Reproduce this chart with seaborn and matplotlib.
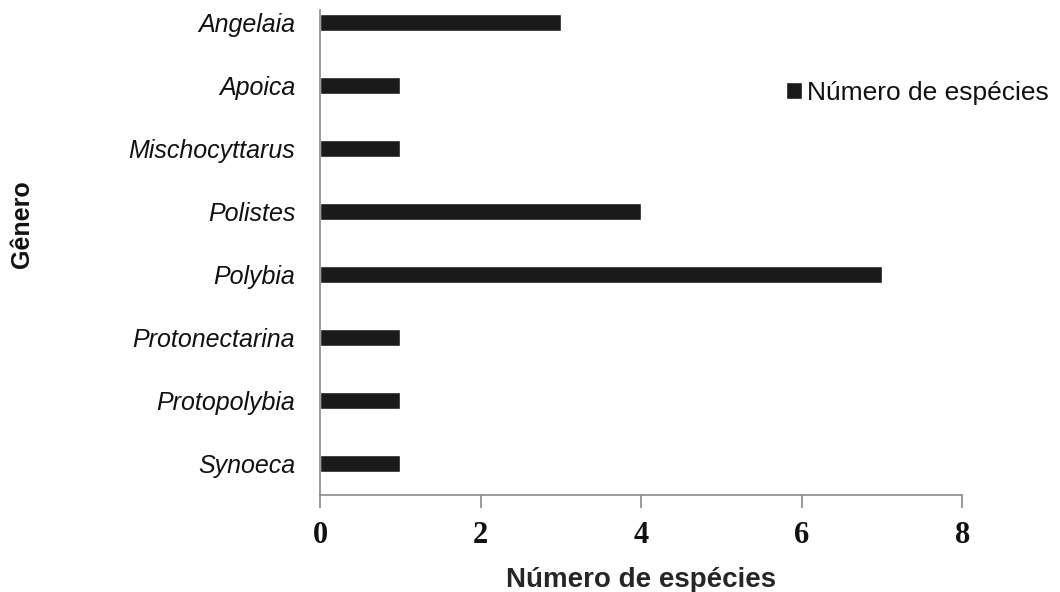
import matplotlib
matplotlib.use("Agg")
import matplotlib.pyplot as plt
import seaborn as sns
import pandas as pd

# data
generos = ["Angelaia", "Apoica", "Mischocyttarus", "Polistes",
           "Polybia", "Protonectarina", "Protopolybia", "Synoeca"]
n_especies = [3, 1, 1, 4, 7, 1, 1, 1]
x_ticks = [0, 2, 4, 6, 8]

df = pd.DataFrame({"Gênero": generos, "Número de espécies": n_especies})

sns.set_style("white")
plt.rcParams["font.family"] = ["Liberation Sans", "DejaVu Sans"]
plt.rcParams["text.color"] = "#111111"
plt.rcParams["xtick.color"] = "#8a8a8a"
plt.rcParams["xtick.labelcolor"] = "#111111"
plt.rcParams["ytick.labelcolor"] = "#111111"

fig = plt.figure(figsize=(10.6, 5.92), dpi=100)
ax = fig.add_axes([0.302, 0.164, 0.606, 0.819])

sns.barplot(data=df, y="Gênero", x="Número de espécies", orient="h",
            color="#1a1a1a", width=0.27, saturation=1,
            label="Número de espécies", ax=ax)

ax.set_xlim(0, 8)
ax.set_ylim(7.5, -0.19)
ax.set_xticks(x_ticks)
ax.set_xticklabels([str(t) for t in x_ticks], family="Liberation Serif",
                   fontweight="bold", fontsize=22)
ax.set_yticks(range(len(generos)))
ax.set_yticklabels(generos, style="italic", fontsize=18)

for s in ["top", "right"]:
    ax.spines[s].set_visible(False)
for s in ["left", "bottom"]:
    ax.spines[s].set_color("#8a8a8a")
    ax.spines[s].set_linewidth(1.2)

ax.tick_params(axis="x", bottom=True, direction="out", length=9, width=1.2, pad=10)
ax.tick_params(axis="y", left=False, length=0, pad=18)

ax.set_xlabel("Número de espécies", fontweight="bold", fontsize=20, labelpad=12)
ax.set_ylabel("")
fig.text(22 / 1060, 1 - 224 / 592, "Gênero", rotation=90, fontweight="bold",
         fontsize=18, ha="center", va="center")

ax.legend(loc="center left", bbox_to_anchor=(786 / 1060, 1 - 93 / 592),
          bbox_transform=fig.transFigure, frameon=False,
          fontsize=19, handlelength=0.6, handleheight=0.6, handletextpad=0.2,
          borderaxespad=0, borderpad=0)

fig.savefig("out.png", dpi=100)
